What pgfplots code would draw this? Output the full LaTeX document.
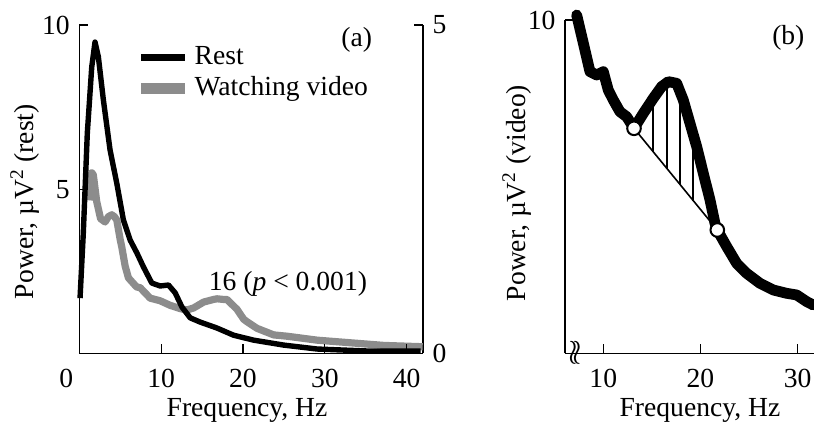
\documentclass[border=0pt]{standalone}
\usepackage{pgfplots}
\pgfplotsset{compat=1.18}
\usepackage{fontspec}
\setmainfont{Liberation Serif}
\definecolor{vgray}{RGB}{140,140,140}
\begin{document}
\fontsize{13.8}{16.5}\selectfont
\begin{tikzpicture}
\path[use as bounding box] (0,0) rectangle (407pt,211.5pt);
\pgfplotsset{
  every axis/.append style={
    scale only axis, anchor=south west,
    /pgf/number format/assume math mode=true,
    tick style={black, line width=0.6pt},
    axis line style={-, line width=0.7pt},
    major tick length=4.5pt,
    tick align=inside,
    font=\fontsize{13.8}{16.5}\selectfont,
    xticklabel style={yshift=-3.0pt},
  }
}
% ---------- panel (a): video, right axis ----------
\begin{axis}[at={(39.65pt,34.85pt)}, width=171.85pt, height=164.15pt,
  xmin=0, xmax=42, ymin=0, ymax=5,
  axis x line=none, axis y line*=right, ytick={0,5}]
\addplot[vgray, line width=3.6pt, line join=round] coordinates {
(1.22,2.33) (1.52,2.75) (1.71,2.72) (2.13,2.31) (2.60,2.05) (3.15,2.00) (3.55,2.08)
(3.97,2.11) (4.30,2.08) (4.58,2.03) (5.00,1.73) (5.19,1.62) (5.60,1.33) (6.00,1.15)
(6.21,1.12) (7.00,1.01) (7.43,1.00) (8.66,0.84) (9.88,0.80) (11.11,0.73) (12.33,0.68)
(13.15,0.66) (13.96,0.69) (14.78,0.75) (15.18,0.78) (16.40,0.82) (16.82,0.83)
(17.63,0.82) (18.05,0.82) (18.45,0.77) (19.27,0.67) (20.08,0.52) (20.50,0.48)
(21.72,0.38) (23.35,0.30) (23.76,0.28) (25.40,0.26) (29.07,0.20) (33.15,0.16)
(37.22,0.12) (41.96,0.10)};
\end{axis}
% ---------- panel (a): rest, left axis ----------
\begin{axis}[at={(39.65pt,34.85pt)}, width=171.85pt, height=164.15pt,
  xmin=0, xmax=42, ymin=0, ymax=10,
  axis x line*=bottom, axis y line*=left,
  xtick={10,20,30,40}, ytick={5,10}, clip=false,
  xlabel={Frequency, Hz},
  xlabel style={at={(axis description cs:0.488,0)}, anchor=base, yshift=-31.85pt},
  ylabel={Power, µV\textsuperscript{2} (rest)},
  ylabel style={at={(axis description cs:-0.158,0.462)}, anchor=center},
  legend style={draw=none, fill=none, at={(axis cs:6.1,9.6)}, anchor=north west,
    row sep=0pt, nodes={inner sep=2pt}, font=\fontsize{13.8}{16.5}\selectfont},
  legend cell align=left,
  legend image code/.code={\draw[#1] (0pt,0pt) -- (22pt,0pt);}]
\addlegendimage{black, line width=3.6pt}
\addlegendentry{Rest}
\addlegendimage{vgray, line width=5.5pt}
\addlegendentry{Watching video}
\addplot[black, line width=2.7pt, line join=round, forget plot] coordinates {
(0.09,1.68) (0.49,3.66) (0.98,6.71) (1.52,8.72) (1.92,9.48) (2.33,9.03) (2.94,7.72)
(3.76,6.19) (4.58,5.18) (5.39,4.06) (6.21,3.45) (7.03,3.06) (7.84,2.63) (8.86,2.14)
(9.88,2.05) (10.90,2.08) (11.72,1.84) (12.54,1.41) (13.55,1.08) (14.78,0.95)
(16.82,0.77) (18.86,0.55) (21.31,0.40) (24.98,0.25) (29.07,0.13) (35.19,0.07)
(41.72,0.07)};
\node[anchor=north, yshift=-3.0pt, inner sep=0.333em] at (axis cs:-1.6,0) {0};
\node at (axis cs:25.5,2.13) {16 (\textit{p} < 0.001)};
\node at (axis cs:33.9,9.54) {(a)};
\end{axis}
% ---------- panel (b) ----------
\begin{axis}[at={(282.5pt,34.85pt)}, width=124.5pt, height=166.65pt,
  xmin=6.06, xmax=31.68, ymin=0, ymax=10,
  axis x line*=bottom, axis y line*=left,
  xtick={10,20,30}, ytick={10}, clip=false,
  xlabel={Frequency, Hz},
  xlabel style={at={(axis description cs:0.542,0)}, anchor=base, yshift=-31.85pt},
  ylabel={Power, µV\textsuperscript{2} (video)},
  ylabel style={at={(axis description cs:-0.193,0.481)}, anchor=center}]
% straight baseline between the two circles
\addplot[black, line width=0.8pt] coordinates {(13.16,6.75) (21.73,3.70)};
% vertical hatching
\addplot[black, line width=0.8pt] coordinates {(15.12,6.05) (15.12,7.60)};
\addplot[black, line width=0.8pt] coordinates {(16.56,5.54) (16.56,8.10)};
\addplot[black, line width=0.8pt] coordinates {(17.90,5.06) (17.90,7.80)};
\addplot[black, line width=0.8pt] coordinates {(19.24,4.58) (19.24,6.50)};
% video spectrum
\addplot[black, line width=5.4pt, line join=round, line cap=round] coordinates {
(7.26,10.15) (7.95,9.30) (8.63,8.45) (9.32,8.35) (10.00,8.45) (10.51,7.90)
(11.03,7.60) (11.71,7.25) (12.40,7.10) (13.16,6.75) (14.12,7.20) (15.14,7.65)
(16.00,8.00) (16.69,8.15) (17.55,8.10) (18.23,7.60) (18.92,6.90) (19.61,6.20)
(20.29,5.40) (20.98,4.60) (21.49,3.90) (21.73,3.70) (22.70,3.20) (23.72,2.70)
(24.75,2.40) (26.12,2.10) (27.49,1.90) (28.87,1.80) (29.90,1.75) (30.93,1.55)
(31.60,1.45)};
% circles
\addplot[only marks, mark=*, mark size=3.4pt, mark options={fill=white, draw=black, line width=1pt}]
  coordinates {(13.16,6.75) (21.73,3.70)};
\node[inner sep=0pt] at (axis cs:7.09,0) {\fontsize{16}{16}\selectfont$\wr\!\wr$};
\node at (axis cs:29.04,9.47) {(b)};
\end{axis}
\end{tikzpicture}
\end{document}
